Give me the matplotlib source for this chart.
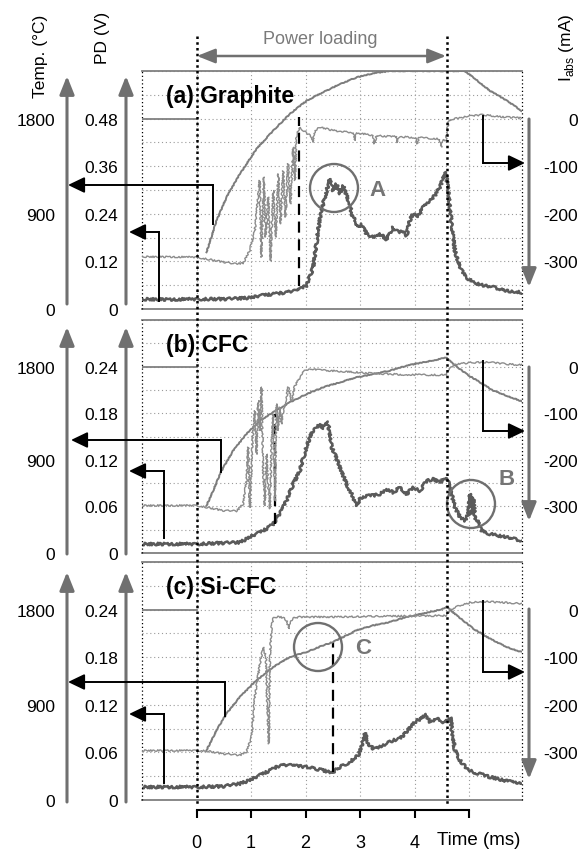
import matplotlib
matplotlib.use("Agg")
import matplotlib.pyplot as plt
from matplotlib.lines import Line2D
from matplotlib.patches import FancyArrowPatch, Ellipse
from matplotlib.transforms import blended_transform_factory
from matplotlib.ticker import MultipleLocator

plt.rcParams['font.family'] = ['Liberation Sans', 'DejaVu Sans']
plt.rcParams['mathtext.fontset'] = 'custom'
plt.rcParams['mathtext.rm'] = 'Liberation Sans'

# ---------------- data ----------------
TIME_TICKS = [0, 1, 2, 3, 4, 5]
TIME_LABELS = ['0', '1', '2', '3', '4', '']
POWER_ON, POWER_OFF = 0.0, 4.59
PANEL_TITLES = ['(a) Graphite', '(b) CFC', '(c) Si-CFC']
TEMP_TICKS = [0, 900, 1800]
TEMP_LABELS = ['0', '900', '1800']
PD_TICKS_A = [0, 0.12, 0.24, 0.36, 0.48]
PD_LABELS_A = ['0', '0.12', '0.24', '0.36', '0.48']
PD_TICKS_BC = [0, 0.06, 0.12, 0.18, 0.24]
PD_LABELS_BC = ['0', '0.06', '0.12', '0.18', '0.24']
IABS_TICKS = [0, -100, -200, -300]
IABS_LABELS = ['0', '-100', '-200', '-300']
IABS_REF = 0

# (a) Graphite
a_pd_t = [-1.0, -0.5, 0.0, 0.5, 0.98, 1.2, 1.41, 1.6, 1.835, 2.018, 2.14, 2.23, 2.29, 2.354,
          2.446, 2.507, 2.569, 2.63, 2.69, 2.752, 2.813, 2.844, 2.905, 2.966, 3.028, 3.119,
          3.24, 3.364, 3.486, 3.607, 3.70, 3.79, 3.853, 3.91, 3.97, 4.066, 4.158, 4.28, 4.37,
          4.46, 4.52, 4.575, 4.617, 4.68, 4.74, 4.83, 4.95, 5.075, 5.26, 5.44, 5.69, 5.96]
a_pd_v = [0.025, 0.024, 0.025, 0.025, 0.028, 0.034, 0.038, 0.041, 0.046, 0.059, 0.105, 0.197,
          0.248, 0.282, 0.328, 0.298, 0.315, 0.290, 0.311, 0.286, 0.265, 0.239, 0.223, 0.206,
          0.214, 0.189, 0.181, 0.189, 0.176, 0.206, 0.193, 0.197, 0.185, 0.223, 0.239, 0.235,
          0.256, 0.273, 0.286, 0.307, 0.328, 0.345, 0.298, 0.214, 0.147, 0.105, 0.080, 0.067,
          0.059, 0.055, 0.046, 0.042]
a_temp_t = [0.183, 0.367, 0.55, 0.795, 1.10, 1.406, 1.71, 2.018, 2.32, 2.63, 2.94, 3.24, 3.55,
            4.92, 5.075, 5.38, 5.69, 5.96]
a_temp_v = [536, 835, 1056, 1276, 1513, 1686, 1843, 1969, 2048, 2127, 2190, 2228, 2250,
            2250, 2190, 2064, 1969, 1875]
a_i_t = [-1.0, 0.0, 0.183, 0.672, 0.856, 0.978, 1.07, 1.16, 1.19, 1.235, 1.27, 1.315, 1.357,
         1.406, 1.455, 1.498, 1.54, 1.59, 1.633, 1.68, 1.725, 1.773, 1.804, 1.835, 1.895, 1.957,
         2.018, 2.08, 2.128, 2.17, 2.26, 2.507, 2.88, 2.90, 2.94, 3.24, 3.26, 3.30, 3.67, 3.69,
         3.72, 4.03, 4.05, 4.08, 4.46, 4.49, 4.52, 4.575, 4.617, 4.68, 5.075, 5.26, 5.565, 5.96]
a_i_v = [-290, -291, -295, -305, -304, -277, -235, -130, -291, -123, -249, -165, -299,
         -151, -249, -116, -221, -110, -207, -95, -179, -60, -130, -32, -18, -25,
         -29, -36, -50, -25, -18, -25, -30, -46, -30, -35, -53, -36, -38, -50,
         -38, -40, -53, -40, -43, -60, -44, -46, -8, -1, 6, 8, 4, 1]

# (b) CFC
b_pd_t = [-1.04, 0.0, 0.795, 0.978, 1.223, 1.406, 1.529, 1.651, 1.773, 1.896, 1.957, 2.018,
          2.08, 2.14, 2.202, 2.263, 2.324, 2.385, 2.416, 2.477, 2.538, 2.63, 2.752, 2.844,
          2.936, 2.997, 3.119, 3.242, 3.364, 3.486, 3.608, 3.73, 3.853, 3.976, 4.098, 4.22,
          4.342, 4.465, 4.557, 4.618, 4.679, 4.74, 4.832, 4.924, 4.985, 5.015, 5.046, 5.077,
          5.107, 5.168, 5.23, 5.383, 5.689, 5.964]
b_pd_v = [0.0116, 0.0116, 0.0137, 0.0202, 0.0287, 0.0373, 0.0502, 0.0674, 0.0888, 0.106,
          0.123, 0.136, 0.149, 0.1575, 0.162, 0.166, 0.160, 0.170, 0.166, 0.136, 0.127, 0.110,
          0.0888, 0.076, 0.061, 0.0695, 0.074, 0.074, 0.076, 0.082, 0.078, 0.0845, 0.076,
          0.0845, 0.080, 0.093, 0.095, 0.091, 0.097, 0.091, 0.076, 0.059, 0.046, 0.0417,
          0.0502, 0.076, 0.0502, 0.0717, 0.046, 0.0395, 0.0287, 0.0245, 0.0202, 0.0159]
b_temp_t = [0.183, 0.305, 0.459, 0.672, 0.917, 1.162, 1.406, 1.712, 2.018, 2.324, 2.63, 2.936,
            3.242, 3.547, 3.853, 4.159, 4.465, 4.575, 4.71, 4.954, 5.199, 5.444, 5.689, 5.964]
b_temp_v = [457, 602, 795, 988, 1149, 1278, 1359, 1455, 1535, 1600, 1648, 1696,
            1728, 1761, 1809, 1841, 1873, 1889, 1825, 1728, 1648, 1568, 1519, 1465]
b_i_t = [-1.04, 0.0, 0.183, 0.489, 0.734, 0.856, 0.917, 0.948, 0.978, 1.028, 1.07, 1.10, 1.131,
         1.162, 1.192, 1.223, 1.254, 1.284, 1.315, 1.346, 1.376, 1.406, 1.437, 1.468, 1.498,
         1.529, 1.56, 1.59, 1.651, 1.682, 1.743, 1.804, 1.865, 1.927, 1.988, 2.08, 2.263, 2.63,
         3.242, 3.853, 4.465, 4.587, 4.648, 4.771, 5.077, 5.383, 5.689, 5.964]
b_i_v = [-298, -298, -302, -309, -310, -295, -245, -173, -302, -159, -95, -188, -73,
         -137, -44, -223, -298, -188, -259, -305, -173, -102, -288, -80, -137,
         -87, -123, -95, -66, -44, -73, -41, -30, -16, -9, -5, -7.5, -10,
         -14.5, -17.5, -18, -18, -1.5, 5.5, 9, 9, 5.5, 3.5]

# (c) Si-CFC
c_pd_t = [-1.04, 0.0, 0.489, 0.795, 0.978, 1.162, 1.346, 1.529, 1.712, 2.018, 2.324, 2.477,
          2.63, 2.813, 2.966, 3.028, 3.089, 3.15, 3.242, 3.364, 3.486, 3.608, 3.73, 3.853,
          3.945, 4.037, 4.128, 4.19, 4.281, 4.404, 4.526, 4.618, 4.66, 4.691, 4.74, 4.832,
          4.954, 5.077, 5.383, 5.689, 5.964]
c_pd_v = [0.0164, 0.0164, 0.0172, 0.0206, 0.0248, 0.0311, 0.0374, 0.0437, 0.0437, 0.0416,
          0.0374, 0.034, 0.0416, 0.0479, 0.0563, 0.0668, 0.0845, 0.071, 0.0647, 0.0668,
          0.071, 0.0752, 0.0773, 0.0857, 0.0941, 0.100, 0.1025, 0.109, 0.0983, 0.1025,
          0.0983, 0.100, 0.1046, 0.0836, 0.0626, 0.050, 0.0395, 0.0353, 0.029, 0.024, 0.0206]
c_temp_t = [0.183, 0.367, 0.55, 0.795, 1.10, 1.406, 1.712, 2.018, 2.324, 2.507, 2.752, 2.936,
            3.242, 3.547, 3.853, 4.159, 4.465, 4.587, 4.771, 5.077, 5.383, 5.689, 5.964]
c_temp_v = [470, 659, 816, 974, 1131, 1257, 1352, 1399, 1462, 1494, 1557, 1604,
            1651, 1683, 1730, 1762, 1799, 1825, 1746, 1620, 1525, 1446, 1399]
c_i_t = [-1.04, 0.0, 0.183, 0.489, 0.795, 0.917, 1.009, 1.07, 1.162, 1.223, 1.272, 1.303, 1.327,
         1.346, 1.376, 1.406, 1.437, 1.529, 1.59, 1.651, 1.694, 1.725, 1.773, 1.896, 2.63,
         3.242, 3.853, 4.465, 4.575, 4.648, 4.832, 5.077, 5.26, 5.689, 5.964]
c_i_v = [-296, -296, -297, -303, -306, -299, -268, -184, -114, -79, -100, -219, -282,
         -100, -37, -19, -15.5, -15.5, -17, -22.6, -40, -26, -17.6, -15.5, -15.5,
         -14, -13.4, -12.8, -12.8, -1.5, 9, 16, 17, 14.6, 12.5]

# dashed markers (time, PD low, PD high)
DASH_T = [1.883, 1.437, 2.495]
DASH_LO = [0.059, 0.0373, 0.0353]
DASH_HI = [0.483, 0.179, 0.199]

PANELS = [
    dict(pd=(a_pd_t, a_pd_v), temp=(a_temp_t, a_temp_v), ia=(a_i_t, a_i_v), pdmax=0.6,
         pdt=PD_TICKS_A, pdl=PD_LABELS_A),
    dict(pd=(b_pd_t, b_pd_v), temp=(b_temp_t, b_temp_v), ia=(b_i_t, b_i_v), pdmax=0.3,
         pdt=PD_TICKS_BC, pdl=PD_LABELS_BC),
    dict(pd=(c_pd_t, c_pd_v), temp=(c_temp_t, c_temp_v), ia=(c_i_t, c_i_v), pdmax=0.3,
         pdt=PD_TICKS_BC, pdl=PD_LABELS_BC),
]

# ---------------- figure ----------------
W, H = 587, 854
fig = plt.figure(figsize=(W / 100, H / 100), dpi=100)


def F(x, y):
    return (x / W, 1 - y / H)


PANEL_PX = [(72, 310), (321, 554), (563, 801)]
X0, X1 = 142, 522
GRID_C = '#9a9a9a'
TEMP_C = '#7c7c7c'
PD_C = '#5a5a5a'
I_C = '#8c8c8c'
ARW_C = '#707070'
FS = 12.5

axes = []
for k, (ytop, ybot) in enumerate(PANEL_PX):
    P = PANELS[k]
    ax = fig.add_axes([X0 / W, 1 - ybot / H, (X1 - X0) / W, (ybot - ytop) / H])
    axT = ax.twinx()
    axI = ax.twinx()
    axes.append(ax)

    ln_pd, = ax.plot(*P['pd'], color=PD_C, lw=1.8)
    ln_pd.set_sketch_params(scale=1.3, length=3, randomness=6)
    ln_t, = axT.plot(*P['temp'], color=TEMP_C, lw=1.4)
    ln_t.set_sketch_params(scale=0.4, length=4, randomness=4)
    ln_i, = axI.plot(*P['ia'], color=I_C, lw=1.0)
    ln_i.set_sketch_params(scale=0.8, length=3, randomness=6)
    axI.hlines(IABS_REF, -1.0, POWER_ON, color='#808080', lw=1.3)
    ax.vlines(DASH_T[k], DASH_LO[k], DASH_HI[k], colors='k', linestyles=(0, (5, 3)), lw=1.6,
              zorder=5)

    for a_ in (ax, axT, axI):
        a_.set_xlim(-1.0, 5.97)
        for s in a_.spines.values():
            s.set_visible(False)
    ax.set_ylim(0, P['pdmax'])
    axT.set_ylim(0, 2250)
    axI.set_ylim(-400, 100)

    # grid
    ax.set_xticks(TIME_TICKS)
    ax.yaxis.set_minor_locator(MultipleLocator(P['pdmax'] / 10))
    ax.set_yticks(P['pdt'])
    ax.set_yticklabels(P['pdl'])
    ax.grid(axis='x', which='major', color=GRID_C, ls=(0, (1, 2.5)), lw=0.8)
    ax.grid(axis='y', which='both', color=GRID_C, ls=(0, (1, 2.5)), lw=0.8)
    ax.tick_params(axis='y', which='both', length=0, pad=17.3, labelsize=FS)

    axT.yaxis.tick_left()
    axT.set_yticks(TEMP_TICKS)
    axT.set_yticklabels(TEMP_LABELS)
    axT.tick_params(axis='y', length=0, pad=62.6, labelsize=FS)

    axI.yaxis.tick_right()
    axI.set_yticks(IABS_TICKS)
    axI.set_yticklabels(IABS_LABELS)
    axI.tick_params(axis='y', length=0, pad=40.3, labelsize=FS)
    for lbl in axI.get_yticklabels():
        lbl.set_horizontalalignment('right')

    # frame
    ax.add_line(Line2D([0, 1], [1, 1], transform=ax.transAxes, color='#7f7f7f', lw=1.3,
                       clip_on=False))
    ax.add_line(Line2D([0, 1], [0, 0], transform=ax.transAxes, color='#7f7f7f', lw=1.3,
                       clip_on=False))
    for xx in (0, 1):
        ax.add_line(Line2D([xx, xx], [0, 1], transform=ax.transAxes, color='k',
                           ls=(0, (1, 2)), lw=0.9, clip_on=False))

    if k < 2:
        ax.tick_params(axis='x', length=0, labelbottom=False)
    else:
        sp = ax.spines['bottom']
        sp.set_visible(True)
        sp.set_position(('outward', 7.2))
        sp.set_bounds(0, 5)
        sp.set_linewidth(1.5)
        sp.set_color('k')
        ax.set_xticklabels(TIME_LABELS)
        ax.tick_params(axis='x', direction='out', length=5.4, width=1.5, pad=12,
                       labelsize=13)
    ax.set_xlim(-1.0, 5.97)
    ax.set_ylim(0, P['pdmax'])

    # panel title
    fig.text(*F(166, (ytop + 25)), PANEL_TITLES[k], fontsize=16.5, fontweight='bold',
             ha='left', va='center', zorder=6)

# ---------------- decorations ----------------
def gray_arrow(p0, p1, lw=2.2):
    fig.add_artist(FancyArrowPatch(F(*p0), F(*p1), transform=fig.transFigure,
                                   arrowstyle='-|>,head_length=0.55,head_width=0.22',
                                   mutation_scale=20, lw=lw, color=ARW_C,
                                   shrinkA=0, shrinkB=0))


def black_bent(p0, p1, p2):
    fig.add_artist(Line2D([p0[0] / W, p1[0] / W], [1 - p0[1] / H, 1 - p1[1] / H],
                          transform=fig.transFigure, color='k', lw=1.4))
    fig.add_artist(FancyArrowPatch(F(*p1), F(*p2), transform=fig.transFigure,
                                   arrowstyle='-|>,head_length=0.5,head_width=0.24',
                                   mutation_scale=20, lw=1.4, color='k',
                                   shrinkA=0, shrinkB=0))


AX_TIPS = [(77, 305), (328, 555), (573, 803)]
IA_ARROWS = [(120, 288), (368, 522), (610, 780)]
for (tip, base), (itop, itip) in zip(AX_TIPS, IA_ARROWS):
    gray_arrow((67, base), (67, tip))
    gray_arrow((126, base), (126, tip))
    gray_arrow((529, itop), (529, itip))

BENT = [
    [(213, 225), (213, 186), (68, 186)], [(159, 302), (159, 233), (129, 233)],
    [(483, 117), (483, 164), (525, 164)],
    [(221, 473), (221, 441), (71, 441)], [(164, 539), (164, 472), (129, 472)],
    [(483, 362), (483, 432), (525, 432)],
    [(225, 717), (225, 683), (68, 683)], [(164, 784), (164, 715), (129, 715)],
    [(483, 602), (483, 673), (525, 673)],
]
for b in BENT:
    black_bent(*b)

# power loading
fig.add_artist(FancyArrowPatch(F(197, 57), F(446, 57), transform=fig.transFigure,
                               arrowstyle='<|-|>,head_length=0.55,head_width=0.22',
                               mutation_scale=20, lw=1.8, color=ARW_C, shrinkA=0, shrinkB=0))
fig.text(*F(320, 40), 'Power loading', fontsize=13, color='#7a7a7a', ha='center',
         va='center')

# thick dotted power on/off lines
btr = blended_transform_factory(axes[0].transData, fig.transFigure)
for tt in (POWER_ON, POWER_OFF):
    fig.add_artist(Line2D([tt, tt], [1 - 37 / H, 1 - 805 / H], transform=btr, color='k',
                          ls=(0, (1, 1.3)), lw=1.8))

# circles and labels
for (cx, cy), (lx, ly), s in [((334, 189), (378, 190), 'A'), ((471, 505), (507, 480), 'B'),
                              ((318, 648), (363, 649), 'C')]:
    fig.add_artist(Ellipse(F(cx, cy), 48 / W, 48 / H, transform=fig.transFigure, fill=False,
                           ec='#6f6f6f', lw=1.7))
    fig.text(*F(lx, ly), s, fontsize=16, fontweight='bold', color='#757575', ha='center',
             va='center')

# axis titles
fig.text(*F(40, 56), 'Temp. (°C)', rotation=90, fontsize=FS, ha='center', va='center')
fig.text(*F(103, 38), 'PD (V)', rotation=90, fontsize=FS, ha='center', va='center')
fig.text(*F(567, 48), r'I$_{\mathregular{abs}}$ (mA)', rotation=90, fontsize=FS, ha='center',
         va='center')
fig.text(*F(479, 841), 'Time (ms)', fontsize=13.5, ha='center', va='center')

fig.savefig('out.png', dpi=100)
